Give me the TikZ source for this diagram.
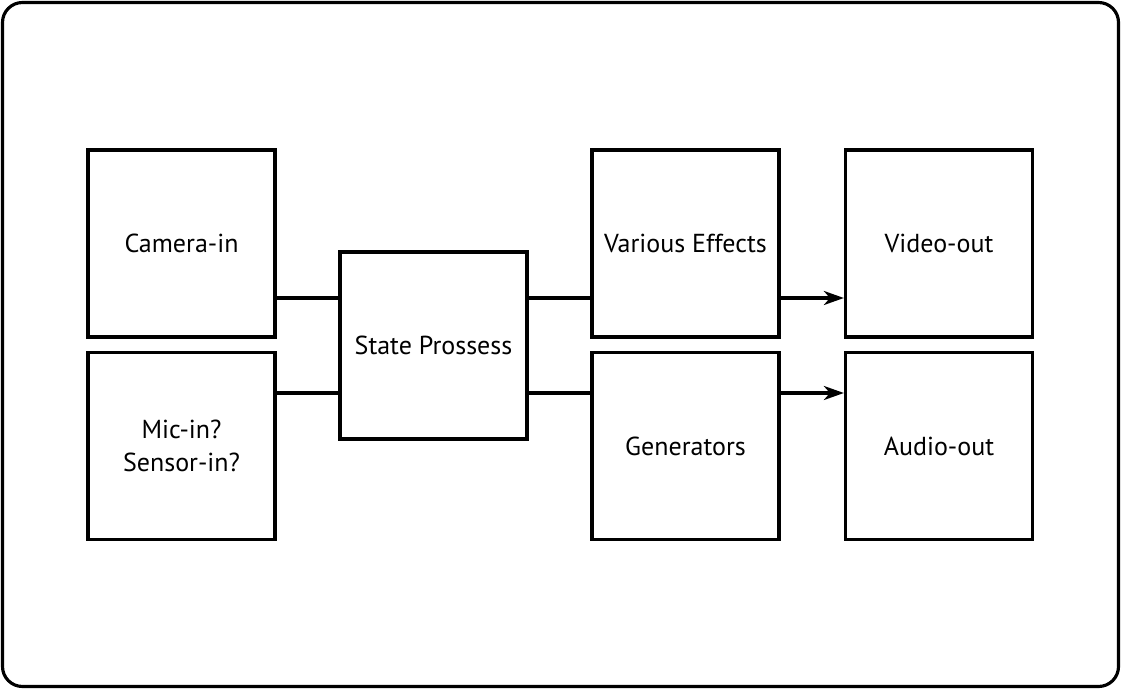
\documentclass[tikz,border=0pt]{standalone}
\usepackage{fontspec}
\setmainfont{PT Sans}
\usepackage{tikz}
\usetikzlibrary{arrows.meta}
\usetikzlibrary{positioning}
\tikzstyle{block} = [rectangle, draw, line width=1.8pt, fill=white,
    minimum width=3.74cm, minimum height=3.74cm, align=center, font=\fontsize{14.8}{18.5}\selectfont]
\tikzstyle{link} = [draw, line width=1.8pt]
\tikzstyle{line} = [draw, line width=1.8pt, -{Stealth[length=0.4cm,width=0.28cm,inset=0.12cm]}]

\begin{document}
\begin{tikzpicture}[x=0.02cm, y=-0.02cm]
  \useasboundingbox (0,0) rectangle (1121,689);
  % Frame
  \draw[line width=1.8pt, rounded corners=0.4cm] (2.5,2.5) rectangle (1118.5,686.5);

  % Place nodes
  \node [block] (cam) at (181.5,243.5) {Camera-in};
  \node [block, below of=cam, node distance=4.05cm] (mic) {Mic-in?\\Sensor-in?};
  \node [block] (state) at (433.5,345.5) {State Prossess};
  \node [block] (fx) at (685.5,243.5) {Various Effects};
  \node [block, below of=fx, node distance=4.05cm] (gen) {Generators};
  \node [block, right of=fx, node distance=5.07cm] (vid) {Video-out};
  \node [block, right of=gen, node distance=5.07cm] (aud) {Audio-out};

  \coordinate (upper) at (0,298);
  \coordinate (lower) at (0,393);

  \path [link] (cam.east |- upper) -- (state.west |- upper);
  \path [link] (mic.east |- lower) -- (state.west |- lower);
  \path [link] (state.east |- upper) -- (fx.west |- upper);
  \path [link] (state.east |- lower) -- (gen.west |- lower);
  \path [line] (fx.east |- upper) -- (vid.west |- upper);
  \path [line] (gen.east |- lower) -- (aud.west |- lower);

\end{tikzpicture}
\end{document}
